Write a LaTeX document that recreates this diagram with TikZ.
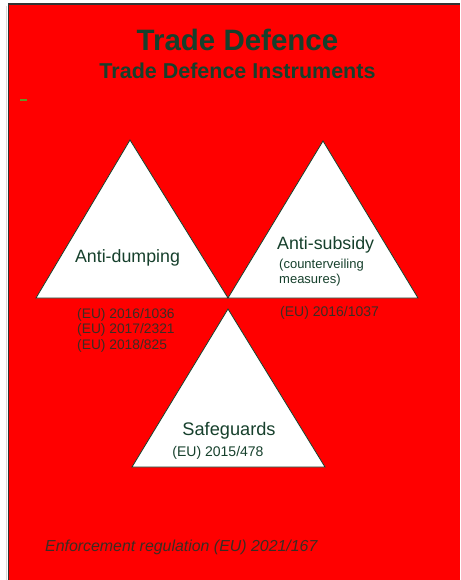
\documentclass[tikz,border=0pt]{standalone}
\usepackage{fontspec}
\setmainfont{Liberation Sans}
\definecolor{bgred}{RGB}{255,0,0}
\definecolor{dkgreen}{RGB}{22,64,44}
\definecolor{refgray}{RGB}{60,45,35}
\definecolor{olive}{RGB}{100,150,40}
\tikzset{
  tri/.style={draw=dkgreen, line width=0.8pt, fill=white, line join=miter},
  txt/.style={text=dkgreen, inner sep=0pt},
  ref/.style={text=refgray, inner sep=0pt, font=\fontsize{13.8}{15.5}\selectfont, align=left},
}
\begin{document}
\begin{tikzpicture}[x=1pt,y=-1pt]
\useasboundingbox (0,0) rectangle (460,580);
\fill[white] (0,0) rectangle (460,580);
\fill[bgred] (8.5,4) rectangle (460,580);
\draw[black!80, line width=1.5pt] (8.5,580) -- (8.5,4) -- (460,4);
\draw[black!15, line width=0.8pt] (6.5,6) -- (6.5,580);
% triangles
\draw[tri] (130,140) -- (228,298) -- (36,298) -- cycle;
\draw[tri] (323,141) -- (418,298) -- (228,298) -- cycle;
\draw[tri] (228,309) -- (325,467) -- (132,467) -- cycle;
% titles
\node[txt, font=\fontsize{29.5}{32}\selectfont\bfseries] (t1) at (237.5,40) {Trade Defence};
\node[txt, font=\fontsize{21.5}{24}\selectfont\bfseries] (t2) at (237.5,71) {Trade Defence Instruments};
\fill[olive] (20,99) rectangle (27,101.5);
% triangle labels
\node[txt, font=\fontsize{17.8}{20}\selectfont] (ad) at (127.5,258) {Anti-dumping};
\node[txt, font=\fontsize{17.8}{20}\selectfont, anchor=west] (as) at (277,245) {Anti-subsidy};
\node[txt, font=\fontsize{13}{15.3}\selectfont, anchor=north west, align=left] (cm) at (279,259) {(counterveiling\\measures)};
\node[txt, font=\fontsize{18.2}{20}\selectfont] (sg) at (229,431) {Safeguards};
\node[txt, font=\fontsize{14}{15}\selectfont] (sgr) at (218,453) {(EU) 2015/478};
% references
\node[ref, anchor=north west] (r1) at (77,308) {(EU) 2016/1036\\(EU) 2017/2321\\(EU) 2018/825};
\node[ref, font=\fontsize{14}{15.5}\selectfont, anchor=west] (r2) at (280,312.5) {(EU) 2016/1037};
\node[ref, font=\fontsize{15.9}{18}\selectfont\itshape, anchor=west] (enf) at (45,547) {Enforcement regulation (EU) 2021/167};
\end{tikzpicture}
\end{document}
